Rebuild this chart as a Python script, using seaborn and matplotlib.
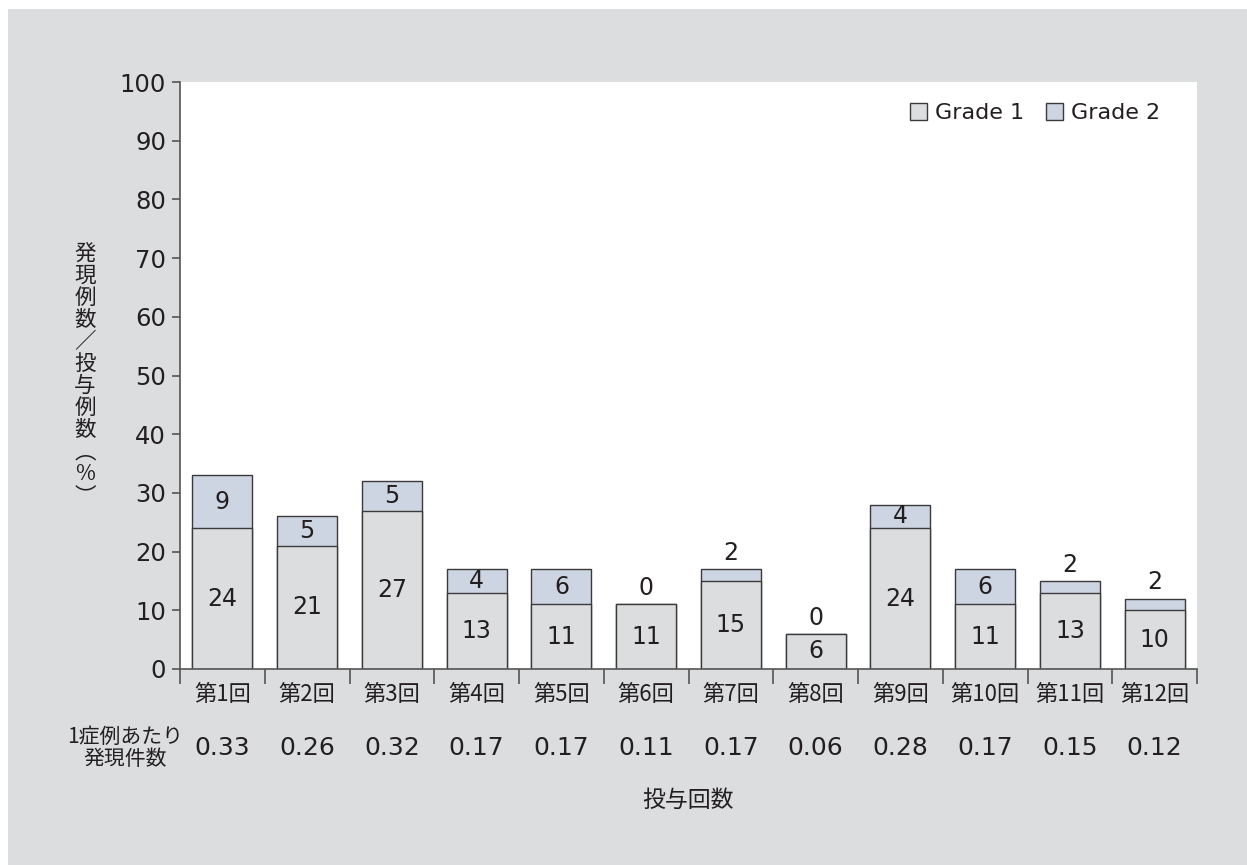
import numpy as np
import pandas as pd
import seaborn as sns
import matplotlib.pyplot as plt
from matplotlib.patches import Patch, Rectangle
from matplotlib.transforms import blended_transform_factory

# ---- data ----
doses = ['第1回', '第2回', '第3回', '第4回', '第5回', '第6回',
         '第7回', '第8回', '第9回', '第10回', '第11回', '第12回']
grade1 = [24, 21, 27, 13, 11, 11, 15, 6, 24, 11, 13, 10]
grade2 = [9, 5, 5, 4, 6, 0, 2, 0, 4, 6, 2, 2]
per_case = ['0.33', '0.26', '0.32', '0.17', '0.17', '0.11',
            '0.17', '0.06', '0.28', '0.17', '0.15', '0.12']
y_ticks = [0, 10, 20, 30, 40, 50, 60, 70, 80, 90, 100]

sns.set_theme(style='white')
plt.rcParams['font.family'] = ['Noto Sans CJK JP', 'DejaVu Sans']
NUM_FONT = ['DejaVu Sans']  # wide digits for the numeric labels

BG = '#dcdddf'
C_G1 = '#dcdddf'
C_G2 = '#cdd5e3'
EDGE = '#3a3a3a'
TXT = '#231f20'
SPINE = '#555555'

df = pd.DataFrame({'dose': doses, 'g1': grade1, 'g2': grade2})
df['total'] = df['g1'] + df['g2']

fig = plt.figure(figsize=(12.47, 8.65), dpi=100, facecolor='white')
fig.patches.append(Rectangle((8 / 1247, 0), 1, 1 - 9 / 865, transform=fig.transFigure,
                             facecolor=BG, edgecolor='none', zorder=-10))

ax = fig.add_axes([180 / 1247, 1 - 669 / 865, (1197 - 180) / 1247, (669 - 82) / 865])
ax.set_facecolor('white')

# stacked bars: total (Grade 2 colour) underneath, Grade 1 drawn over it
sns.barplot(data=df, x='dose', y='total', color=C_G2, saturation=1, width=0.71,
            edgecolor=EDGE, linewidth=1.0, ax=ax)
sns.barplot(data=df, x='dose', y='g1', color=C_G1, saturation=1, width=0.71,
            edgecolor=EDGE, linewidth=1.0, ax=ax)

ax.set_xlim(-0.5, len(doses) - 0.5)
ax.set_ylim(0, 100)

# value labels
for i, (a, b) in enumerate(zip(grade1, grade2)):
    ax.text(i, a / 2, str(a), ha='center', va='center', fontsize=17, color=TXT,
            family=NUM_FONT)
    if b >= 4:
        ax.text(i, a + b / 2, str(b), ha='center', va='center', fontsize=17, color=TXT,
                family=NUM_FONT)
    else:
        ax.annotate(str(b), (i, a + b), xytext=(0, 3), textcoords='offset points',
                    ha='center', va='bottom', fontsize=17, color=TXT, family=NUM_FONT)

# spines and ticks
for s in ['top', 'right']:
    ax.spines[s].set_visible(False)
for s in ['left', 'bottom']:
    ax.spines[s].set_color(SPINE)
    ax.spines[s].set_linewidth(1.2)

ax.set_yticks(y_ticks)
ax.set_yticklabels([str(v) for v in y_ticks], fontsize=17.5, color=TXT, family=NUM_FONT)
ax.tick_params(axis='y', which='major', left=True, length=6, width=1.2, color=SPINE, pad=4)

ax.set_xticks(range(len(doses)))
ax.set_xticklabels(doses, fontsize=16, color=TXT)
ax.tick_params(axis='x', which='major', bottom=True, length=0, pad=10)
ax.set_xticks(np.arange(-0.5, len(doses), 1.0), minor=True)
ax.tick_params(axis='x', which='minor', bottom=True, length=11, width=1.2, color=SPINE)
ax.set_xlabel('')
ax.set_ylabel('')

# per-case incidence row
trans = blended_transform_factory(ax.transData, ax.transAxes)
row_y = -(748 - 669) / (669 - 82)
for i, v in enumerate(per_case):
    ax.text(i, row_y, v, transform=trans, ha='center', va='center', fontsize=18, color=TXT,
            family=NUM_FONT)
fig.text(125 / 1247, 1 - 748 / 865, '1症例あたり\n発現件数', ha='center', va='center',
         fontsize=15, color=TXT, linespacing=0.95)

# axis titles
fig.text(688 / 1247, 1 - 800 / 865, '投与回数', ha='center', va='center', fontsize=16.5, color=TXT)
ylab = ['発', '現', '例', '数', '／', '投', '与', '例', '数', '︵', '%', '︶']
fig.text(85 / 1247, 1 - 375 / 865, '\n'.join(ylab), ha='center', va='center',
         fontsize=15.5, color=TXT, linespacing=1.0)

# legend
handles = [Patch(facecolor=C_G1, edgecolor=EDGE, linewidth=1.0, label='Grade 1'),
           Patch(facecolor=C_G2, edgecolor=EDGE, linewidth=1.0, label='Grade 2')]
leg = ax.legend(handles=handles, loc='upper right', bbox_to_anchor=(0.983, 0.998), ncol=2,
                frameon=False, prop={'family': NUM_FONT, 'size': 16},
                handlelength=0.75, handleheight=0.75, handletextpad=0.35, columnspacing=1.0)
for t in leg.get_texts():
    t.set_color(TXT)

fig.savefig('out.png', dpi=100, facecolor=fig.get_facecolor())
